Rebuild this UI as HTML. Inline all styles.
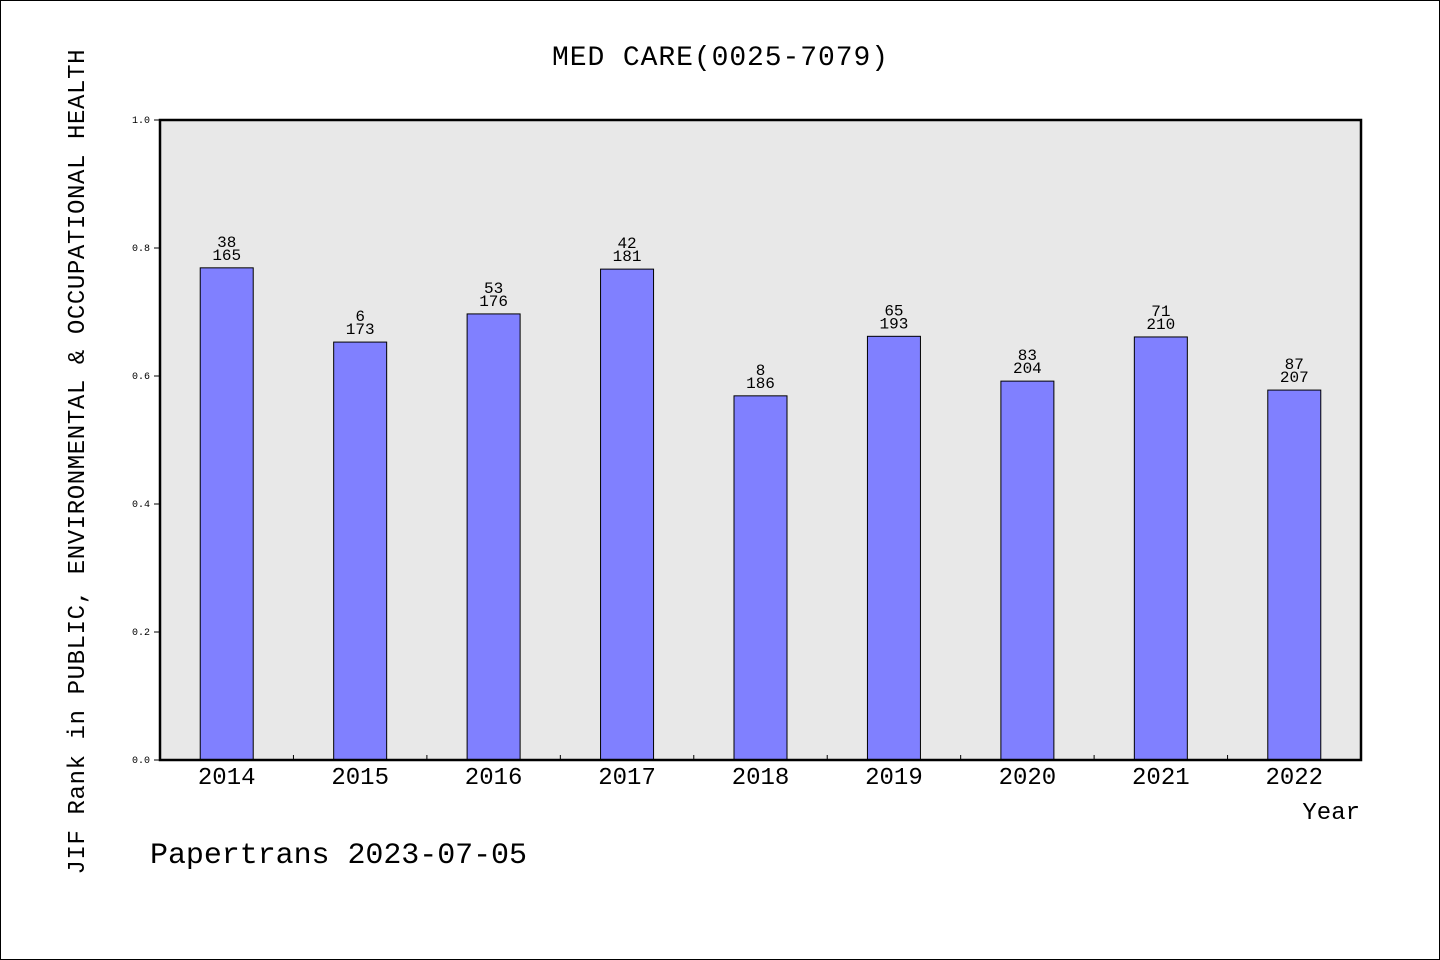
<!DOCTYPE html>
<html><head><meta charset="utf-8"><style>
html,body{margin:0;padding:0;background:#fff}
svg{display:block}
text{font-family:"Liberation Mono","DejaVu Sans Mono",monospace;fill:#000}
</style></head><body>
<svg id="chart" width="1440" height="960" viewBox="0 0 1440 960">
<rect x="0.5" y="0.5" width="1439" height="959" fill="#fff" stroke="#000"/>
<text x="720" y="65" text-anchor="middle" font-size="28" textLength="336">MED CARE(0025-7079)</text>
<rect x="160" y="120" width="1201" height="640" fill="#e8e8e8"/>
<g id="bars"></g>
<rect x="160" y="120" width="1201" height="640" fill="none" stroke="#000" stroke-width="2.5"/>
<text transform="translate(84,462) rotate(-90)" text-anchor="middle" font-size="24" textLength="825">JIF Rank in PUBLIC, ENVIRONMENTAL &amp; OCCUPATIONAL HEALTH</text>
<text x="1360" y="819" text-anchor="end" font-size="24">Year</text>
<text x="150" y="863" font-size="30" textLength="377">Papertrans 2023-07-05</text>
</svg>
<script>
const years=["2014","2015","2016","2017","2018","2019","2020","2021","2022"];
const values=[0.769,0.653,0.697,0.767,0.569,0.662,0.592,0.661,0.578];
const ranks=["38","6","53","42","8","65","83","71","87"];
const totals=["165","173","176","181","186","193","204","210","207"];
const yTicks=["0.0","0.2","0.4","0.6","0.8","1.0"];
const NS="http://www.w3.org/2000/svg";
const X0=160,X1=1361,Y0=760,Y1=120;
const band=(X1-X0)/years.length;
const xc=i=>X0+band*(i+0.5);
const y=v=>Y0-(Y0-Y1)*v;
const g=document.getElementById('bars');
function mk(t,a){const e=document.createElementNS(NS,t);for(const k in a)e.setAttribute(k,a[k]);g.appendChild(e);return e;}
yTicks.forEach(t=>{const v=parseFloat(t);
 const l=mk('line',{x1:X0-6,x2:X0,y1:y(v),y2:y(v),stroke:'#000'});
 
 
 const tx=mk('text',{x:X0-10,y:y(v)+3,'text-anchor':'end','font-size':'10'});tx.textContent=t;
 
 
});
years.forEach((yr,i)=>{
 const c=xc(i),top=y(values[i]);
 const r=mk('rect',{x:c-26.5,y:top,width:53,height:Y0-top,fill:'#8080ff',stroke:'#000','stroke-width':1});
 
 
 const a=mk('text',{x:c,y:top-21,'text-anchor':'middle','font-size':'16'});a.textContent=ranks[i];
 
 
 const b=mk('text',{x:c,y:top-8,'text-anchor':'middle','font-size':'16'});b.textContent=totals[i];
 
 
 const xl=mk('text',{x:c,y:784,'text-anchor':'middle','font-size':'24'});xl.textContent=yr;
 
 
 if(i>0){const t=mk('line',{x1:X0+band*i,x2:X0+band*i,y1:Y0,y2:Y0-5,stroke:'#000'});
 
 }
});
</script>
</body></html>
